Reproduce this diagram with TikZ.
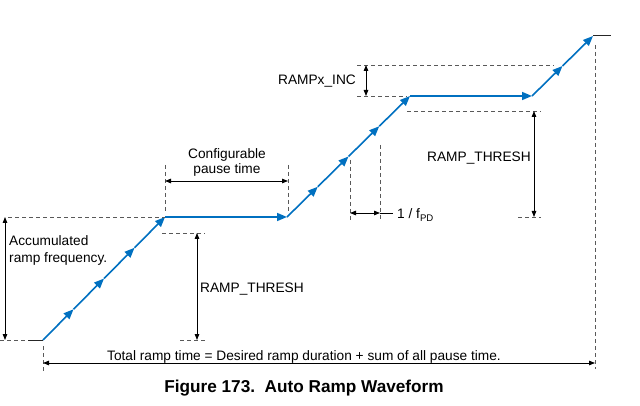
\documentclass[tikz,border=0pt]{standalone}
\usepackage{fontspec}
\setmainfont{Liberation Sans}
\usepackage{xcolor}
\usetikzlibrary{arrows.meta, calc}
\definecolor{rampblue}{RGB}{0,112,192}

\begin{document}
\begin{tikzpicture}[x=1pt, y=-1pt]
	\tikzstyle{every node} = [inner sep=0pt, font=\fontsize{13.7}{16.5}\selectfont]
	\tikzstyle{wave} = [rampblue, line width=1.6pt, -{Triangle[length=10pt, width=8pt]}]
	\tikzstyle{level} = [black!85, line width=1pt]
	\tikzstyle{guide} = [black!65, line width=0.8pt, dash pattern=on 4pt off 3pt]
	\tikzstyle{span} = [line width=0.8pt, {Triangle[length=6pt, width=4.5pt]}-{Triangle[length=6pt, width=4.5pt]}]
	\useasboundingbox (0,0) rectangle (640,406);
	\coordinate (s0) at (28,340);
	\coordinate (a0) at (43,340);
	\coordinate (a1) at (165,217);
	\coordinate (b1) at (287,217);
	\coordinate (a2) at (410,96);
	\coordinate (b2) at (532,96);
	\coordinate (a3) at (593,36);
	\coordinate (s3) at (611,36);
	\draw [level] (s0)--(a0);
	\draw [level] (a3)--(s3);
	\foreach \i in {1,...,4}
		\draw [wave] ($(a0)!{(\i-1)/4}!(a1)$)--($(a0)!{\i/4}!(a1)$);
	\draw [wave] (a1)--(b1);
	\foreach \i in {1,...,4}
		\draw [wave] ($(b1)!{(\i-1)/4}!(a2)$)--($(b1)!{\i/4}!(a2)$);
	\draw [wave] (a2)--(b2);
	\foreach \i in {1,2}
		\draw [wave] ($(b2)!{(\i-1)/2}!(a3)$)--($(b2)!{\i/2}!(a3)$);
	\coordinate (accT) at (5,217);
	\coordinate (accB) at (5,340);
	\draw [guide] (8,217)--(a1);
	\draw [guide] (0,340)--(s0);
	\draw [span] (accT)--(accB);
	\node [anchor=north west, align=left, font=\fontsize{13.7}{17}\selectfont] (acc) at (9,235) {Accumulated\\ramp frequency.};
	\coordinate (thAT) at (197,233);
	\coordinate (thAB) at (197,340);
	\draw [guide] (162,233)--(205,233);
	\draw [guide] (180,340)--(205,340);
	\draw [span] (thAT)--(thAB);
	\node [anchor=base west] (thA) at (200,292) {RAMP\_THRESH};
	\coordinate (pauL) at (165,181);
	\coordinate (pauR) at (288,181);
	\draw [guide] (165,165)--(165,212);
	\draw [guide] (288,165)--(288,212);
	\draw [span] (pauL)--(pauR);
	\node [anchor=north, align=center, font=\fontsize{13.7}{15.5}\selectfont] (pau) at (227,148) {Configurable\\pause time};
	\coordinate (incT) at (366,65);
	\coordinate (incB) at (366,96);
	\draw [guide] (357,65)--(554,65);
	\draw [guide] (357,96)--(407,96);
	\draw [span] (incT)--(incB);
	\node [anchor=base east] (inc) at (356,85) {RAMPx\_INC};
	\coordinate (thBT) at (534,111);
	\coordinate (thBB) at (534,217);
	\draw [guide] (407,111)--(541,111);
	\draw [guide] (518,217)--(541,217);
	\draw [span] (thBT)--(thBB);
	\node [anchor=base west] (thB) at (427,162) {RAMP\_THRESH};
	\coordinate (fpdL) at (350,213);
	\coordinate (fpdR) at (380,213);
	\coordinate (fpdE) at (393,213);
	\draw [guide] (350,160)--(350,221);
	\draw [guide] (380,145)--(380,221);
	\draw [span] (fpdL)--(fpdR);
	\draw [line width=0.8pt] (fpdR)--(fpdE);
	\node [anchor=base west] (fpd) at (397,219) {1 / f\textsubscript{PD}};
	\coordinate (totL) at (43,363);
	\coordinate (totR) at (595,363);
	\draw [guide] (43,346)--(43,373);
	\draw [guide] (595,45)--(595,369);
	\draw [span] (totL)--(totR);
	\node [anchor=base] (tot) at (304,360) {Total ramp time = Desired ramp duration + sum of all pause time.};
	\node [anchor=base, font=\fontsize{17.2}{20}\selectfont\bfseries] (cap) at (304,392) {Figure 173.\ \ Auto Ramp Waveform};
\end{tikzpicture}
\end{document}
